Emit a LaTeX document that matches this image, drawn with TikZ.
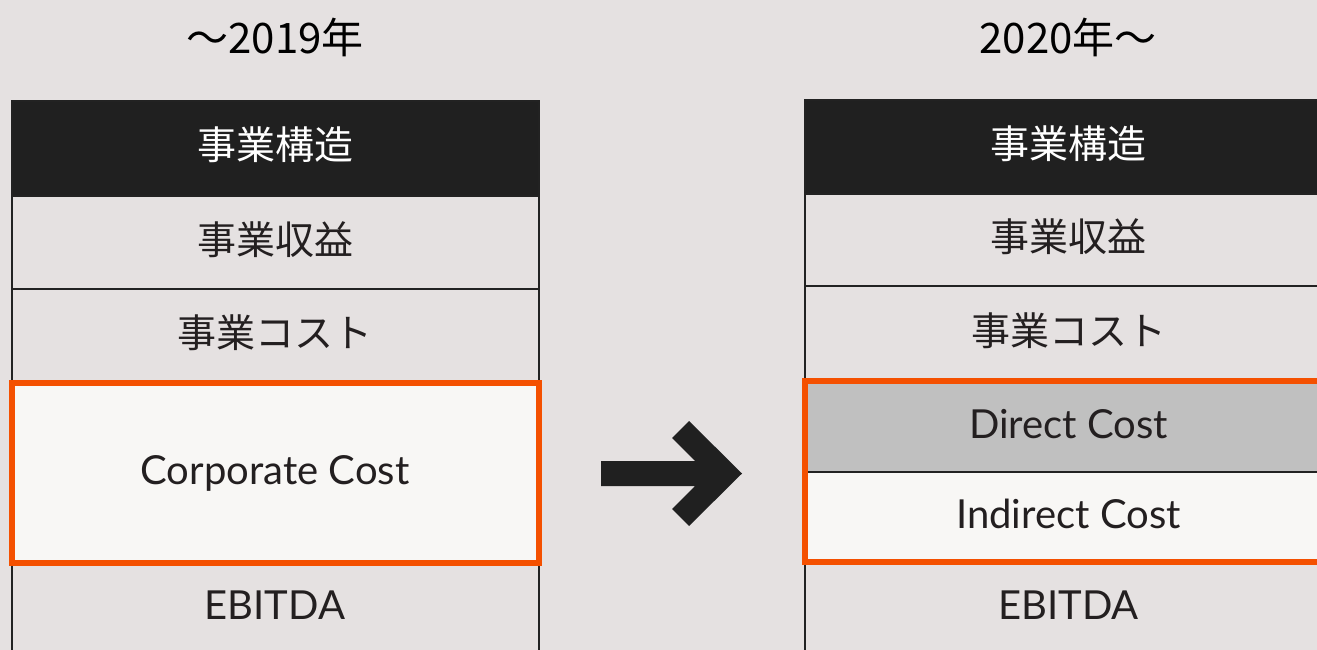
\documentclass[tikz,border=0pt]{standalone}
\usepackage{fontspec}
\setmainfont{Lato}
\newfontfamily\cjk{Noto Sans CJK JP}
\definecolor{bg}{HTML}{E5E1E1}
\definecolor{hdr}{HTML}{202020}
\definecolor{linec}{HTML}{222222}
\definecolor{txt}{HTML}{231F20}
\definecolor{light}{HTML}{F8F7F5}
\definecolor{greyc}{HTML}{C0C0C0}
\definecolor{orng}{HTML}{F45000}
\begin{document}
\begin{tikzpicture}[x=1pt,y=-1pt,
  cell/.style={draw=linec, line width=2pt, inner sep=0pt, outer sep=0pt,
    anchor=north west, minimum width=527pt, text=txt,
    font=\fontsize{40}{42}\selectfont, text height=29pt, text depth=6pt},
  head/.style={fill=hdr, text=white},
  hilite/.style={draw=orng, line width=6pt},
  year/.style={font=\cjk\fontsize{42}{44}\selectfont, text=black, inner sep=0pt},
  jp/.style={font=\cjk\fontsize{39}{41}\selectfont, text height=34pt, text depth=11pt}]
\fill[bg] (0,0) rectangle (1317,650);
\clip (0,0) rectangle (1317,650);
% year labels
\node[year] (y1) at (275,37) {～2019年};
\node[year] (y2) at (1068,37) {2020年～};
% left table
\node[cell, head, jp, minimum height=95pt] (L0) at (11.5,101) {事業構造};
\node[cell, jp, minimum height=93pt] (L1) at (11.5,196) {事業収益};
\node[cell, jp, minimum height=94pt] (L2) at (11.5,289) {事業コスト};
\node[cell, fill=light, minimum height=180pt] (L3) at (11.5,383) {Corporate Cost};
\node[cell, minimum height=90pt] (L4) at (11.5,563) {EBITDA};
\draw[hilite] (L3.north west) rectangle (L3.south east);
% right table
\node[cell, head, jp, minimum height=94pt] (R0) at (805,100) {事業構造};
\node[cell, jp, minimum height=92pt] (R1) at (805,194) {事業収益};
\node[cell, jp, minimum height=95pt] (R2) at (805,286) {事業コスト};
\node[cell, fill=greyc, minimum height=91pt] (R3) at (805,381) {Direct Cost};
\node[cell, fill=light, minimum height=90pt] (R4) at (805,472) {Indirect Cost};
\node[cell, minimum height=91pt] (R5) at (805,562) {EBITDA};
\draw[hilite] (R3.north west) rectangle (R4.south east);
% arrow
\fill[hdr] (601,461) -- (695,461) -- (672,438) -- (689,421) -- (742,473.5)
  -- (689,526) -- (672,509) -- (695,486) -- (601,486) -- cycle;
\end{tikzpicture}
\end{document}
